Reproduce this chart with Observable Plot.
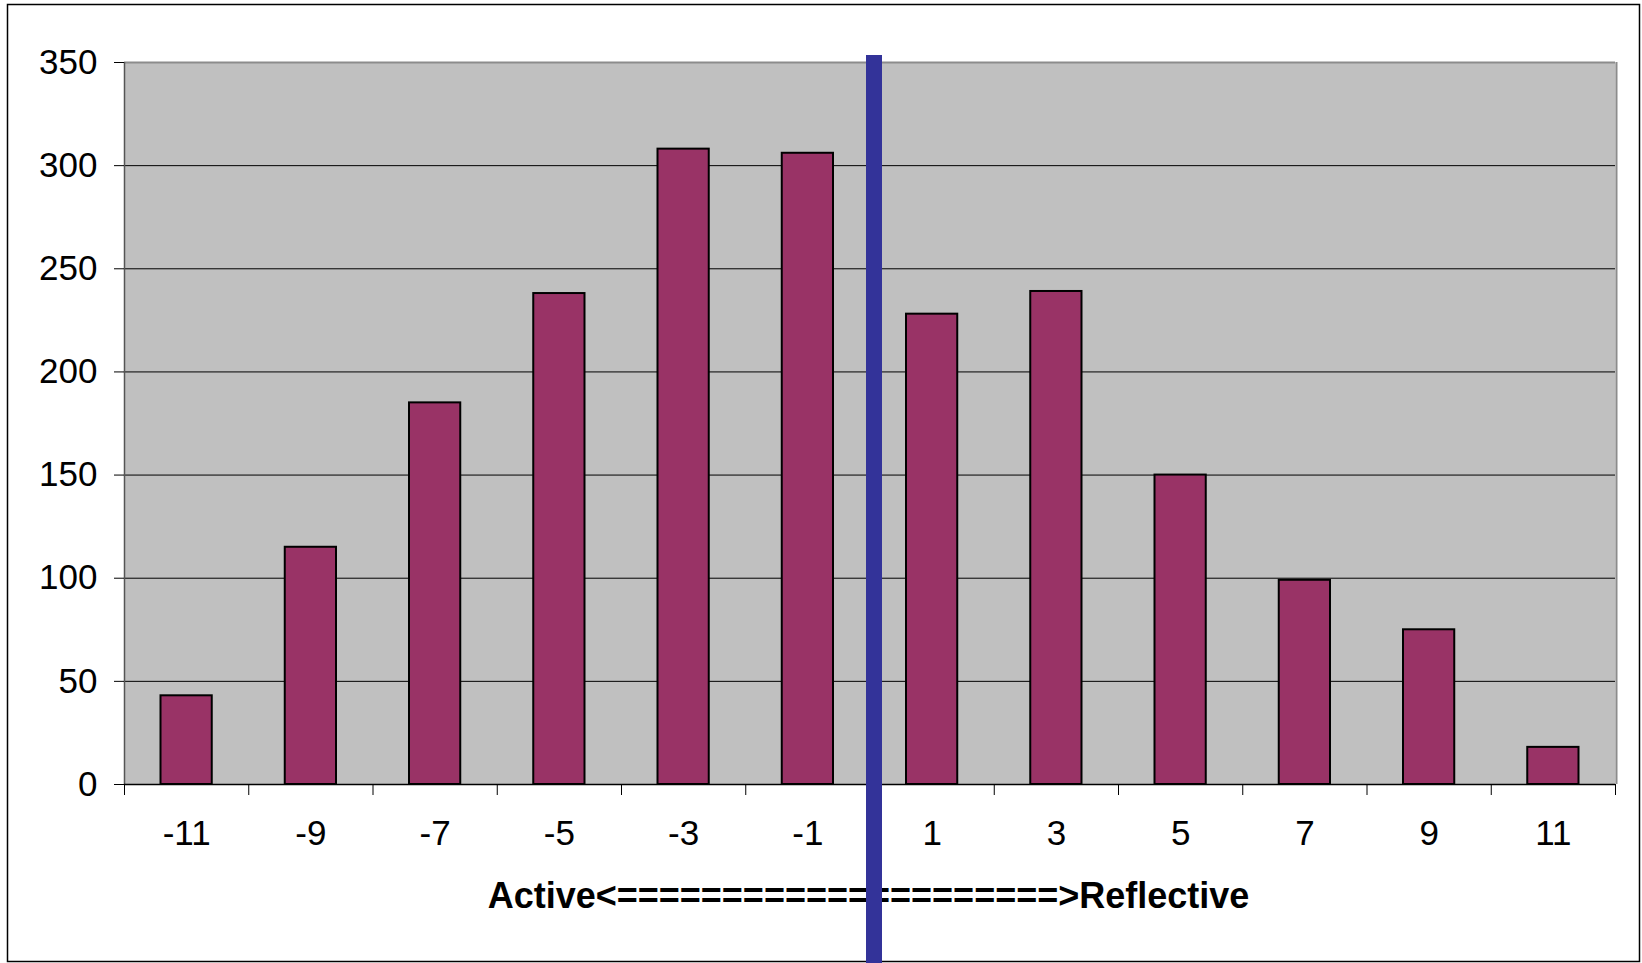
<!DOCTYPE html>
<html>
<head>
<meta charset="utf-8">
<script src="https://cdn.jsdelivr.net/npm/d3@7"></script>
<script src="https://cdn.jsdelivr.net/npm/@observablehq/plot@0.6"></script>
<style>
  html, body { margin: 0; padding: 0; background: #fff; }
  #chart svg { display: block; }
</style>
</head>
<body>
<div id="chart"></div>
<script>
// Learning-style scores (odd values) and how many respondents got each
const scores = [-11, -9, -7, -5, -3, -1, 1, 3, 5, 7, 9, 11];
const counts = [43, 115, 185, 238, 308, 306, 228, 239, 150, 99, 75, 18];

// Tick positions: category boundaries on x, counts on y
const binEdges = [-12, -10, -8, -6, -4, -2, 0, 2, 4, 6, 8, 10, 12];
const yTicks = [0, 50, 100, 150, 200, 250, 300, 350];
const gridValues = [50, 100, 150, 200, 250, 300];
const axisTitle = "Active<=====================>Reflective";
const divider = [0];

const data = scores.map((s, i) => ({score: s, count: counts[i]}));
const fmt = d => (d < 0 ? "-" + Math.abs(d) : String(d));

const chart = Plot.plot({
  width: 1642,
  height: 963,
  marginTop: 62,
  marginBottom: 179,
  marginLeft: 124,
  marginRight: 27,
  x: {domain: [-12, 12]},
  y: {domain: [0, 350]},
  style: {
    fontFamily: "'Liberation Sans', Arial, sans-serif",
    background: "#fff",
    overflow: "visible"
  },
  marks: [
    // outer border of the whole chart
    Plot.frame({stroke: "#000", strokeWidth: 1.5, insetLeft: -117, insetTop: -58, insetRight: -24, insetBottom: -177}),
    // grey plot area
    Plot.frame({fill: "#c0c0c0", stroke: null}),
    Plot.ruleY(gridValues, {stroke: "#000", strokeWidth: 1}),
    Plot.ruleY([350], {stroke: "#8c8c8c", strokeWidth: 2}),
    Plot.ruleX([12], {stroke: "#8c8c8c", strokeWidth: 2, dx: 1}),
    Plot.ruleX([-12], {stroke: "#555", strokeWidth: 1.5}),
    Plot.axisY({ticks: yTicks, tickSize: 10, tickPadding: 17, fontSize: 35, label: null, tickFormat: fmt}),
    Plot.axisX({ticks: binEdges, tickSize: 11, tickFormat: () => "", label: null}),
    Plot.axisX({ticks: scores, tickSize: 0, tickPadding: 36, fontSize: 35, label: null, tickFormat: fmt}),
    // bars: each score fills its two-unit bin, inset to leave gaps
    Plot.rectY(data, {
      x1: d => d.score - 1,
      x2: d => d.score + 1,
      y: "count",
      insetLeft: 36.5,
      insetRight: 36.5,
      fill: "#993366",
      stroke: "#000",
      strokeWidth: 2
    }),
    Plot.ruleY([0], {stroke: "#000", strokeWidth: 1.5}),
    Plot.text([axisTitle], {
      text: d => d,
      frameAnchor: "bottom",
      lineAnchor: "middle",
      dy: 112,
      dx: -1.5,
      fontSize: 36,
      fontWeight: "bold",
      fill: "#000"
    }),
    // divider between the active and reflective halves
    Plot.ruleX(divider, {stroke: "#333399", strokeWidth: 16, dx: 4, insetTop: -7, insetBottom: -179})
  ]
});

document.getElementById("chart").appendChild(chart);
</script>
</body>
</html>
